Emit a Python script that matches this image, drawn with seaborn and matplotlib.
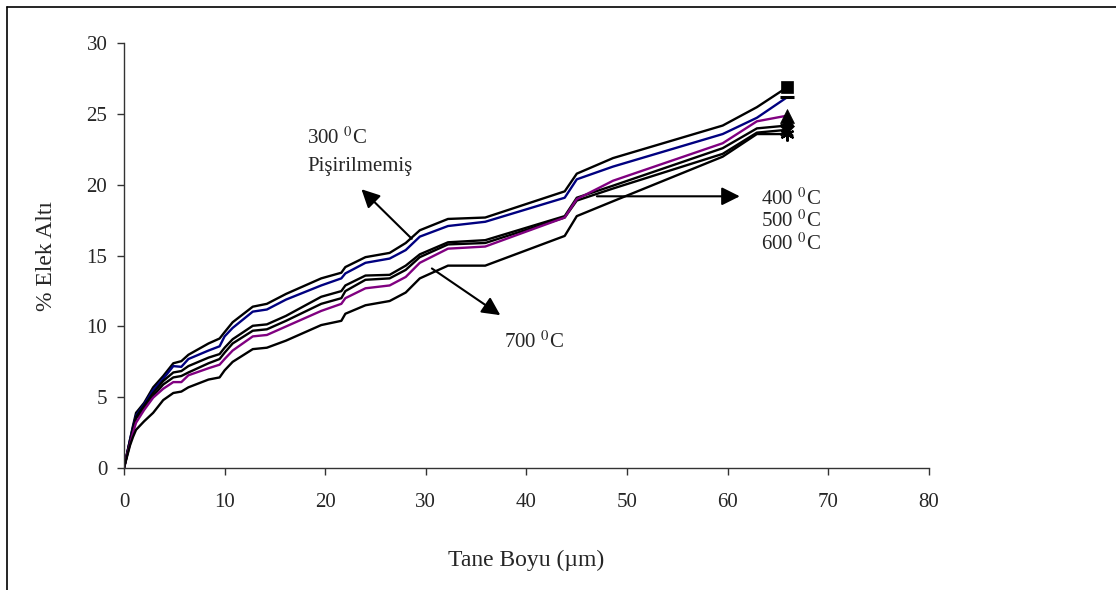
import matplotlib
matplotlib.use("Agg")
import matplotlib.pyplot as plt
from matplotlib.lines import Line2D
import numpy as np
import pandas as pd
import seaborn as sns

# Sieve sizes (µm) shared by every curve
tane_boyu = [0, 0.3, 0.6, 0.9, 1.2, 2.0, 2.9, 3.9, 4.9, 5.7, 6.4, 8.4, 9.5, 10.0,
             10.8, 12.8, 14.2, 16.1, 19.6, 21.6, 22.0, 24.0, 26.4, 28.0, 29.4,
             32.2, 35.9, 43.8, 45.0, 48.6, 59.5, 62.9, 65.9]

# Cumulative undersize (%) for each sample
pisirilmemis = [0, 1.0, 2.0, 3.0, 3.9, 4.6, 5.7, 6.5, 7.4, 7.55, 8.0, 8.8, 9.15, 9.6,
                10.3, 11.4, 11.6, 12.3, 13.4, 13.8, 14.2, 14.9, 15.2, 15.9, 16.8,
                17.6, 17.7, 19.55, 20.8, 21.9, 24.2, 25.5, 26.9]
c300 = [0, 1.0, 2.0, 2.9, 3.7, 4.5, 5.5, 6.3, 7.2, 7.15, 7.7, 8.3, 8.6, 9.3,
        9.9, 11.05, 11.2, 11.9, 12.9, 13.4, 13.75, 14.5, 14.8, 15.4, 16.35,
        17.1, 17.4, 19.1, 20.4, 21.3, 23.6, 24.75, 26.2]
c400 = [0, 1.0, 1.9, 2.8, 3.6, 4.4, 5.3, 6.15, 6.75, 6.85, 7.2, 7.8, 8.05, 8.5,
        9.1, 10.05, 10.15, 10.75, 12.1, 12.5, 12.9, 13.6, 13.65, 14.3, 15.1,
        15.95, 16.1, 17.8, 19.1, 19.95, 22.6, 24.0, 24.2]
c500 = [0, 0.9, 1.8, 2.7, 3.5, 4.2, 5.1, 5.9, 6.4, 6.5, 6.75, 7.4, 7.7, 8.15,
        8.8, 9.7, 9.8, 10.4, 11.6, 12.0, 12.5, 13.3, 13.4, 14.0, 14.9,
        15.8, 15.9, 17.7, 18.9, 19.75, 22.2, 23.7, 23.9]
c600 = [0, 0.9, 1.7, 2.5, 3.2, 4.1, 4.97, 5.6, 6.07, 6.07, 6.55, 7.05, 7.3, 7.7,
        8.3, 9.3, 9.4, 10.0, 11.1, 11.6, 12.0, 12.7, 12.9, 13.5, 14.5,
        15.5, 15.65, 17.7, 19.0, 20.3, 22.95, 24.5, 24.9]
c700 = [0, 0.8, 1.6, 2.2, 2.7, 3.3, 3.9, 4.8, 5.3, 5.4, 5.7, 6.25, 6.4, 6.9,
        7.5, 8.4, 8.5, 9.0, 10.1, 10.4, 10.9, 11.5, 11.8, 12.4, 13.4,
        14.3, 14.3, 16.4, 17.8, 18.85, 22.0, 23.6, 23.6]

x_ticks = [0, 10, 20, 30, 40, 50, 60, 70, 80]
y_ticks = [0, 5, 10, 15, 20, 25, 30]

# name, values, line colour, end marker, marker size, marker edge width
series = [
    ("Pişirilmemiş", pisirilmemis, "black", "s", 8.5, 0.5),
    ("300 °C", c300, "#000080", "_", 10, 2.2),
    ("400 °C", c400, "black", "D", 7.5, 0.5),
    ("500 °C", c500, "black", "x", 9, 1.6),
    ("600 °C", c600, "#800080", "^", 9.5, 0.5),
    ("700 °C", c700, "black", (6, 2, 0), 10, 1.6),
]

sns.set_style("white")
plt.rcParams["font.family"] = ["Liberation Serif", "DejaVu Serif"]
plt.rcParams["mathtext.fontset"] = "stix"

FS = 15
FS_TITLE = 17

fig = plt.figure(figsize=(11.16, 5.90), dpi=100)
ax = fig.add_axes([0.1111, 0.2068, 0.7213, 0.7195])

for name, vals, col, mk, ms, mew in series:
    df = pd.DataFrame({"x": tane_boyu, "y": vals})
    sns.lineplot(data=df, x="x", y="y", ax=ax, color=col, linewidth=1.7,
                 sort=False, estimator=None)
    ax.plot(tane_boyu[-1], vals[-1], linestyle="none", marker=mk,
            markersize=ms, color="black", markeredgecolor="black",
            markeredgewidth=mew, zorder=5)

ax.set_xlim(0, 80)
ax.set_ylim(0, 30)
ax.set_xticks(x_ticks)
ax.set_yticks(y_ticks)
ax.set_xticklabels([str(t) for t in x_ticks])
ax.set_yticklabels([str(t) for t in y_ticks])

for side in ("top", "right"):
    ax.spines[side].set_visible(False)
for side in ("left", "bottom"):
    ax.spines[side].set_color("#333333")
    ax.spines[side].set_linewidth(1.0)

ax.tick_params(axis="x", bottom=True, direction="out", length=5, width=1.0,
               color="#333333", pad=13, labelsize=FS)
ax.tick_params(axis="y", left=True, direction="out", length=5, width=1.0,
               color="#333333", pad=7, labelsize=FS)

ax.set_xlabel("Tane Boyu (µm)", fontsize=FS_TITLE, labelpad=27)
ax.set_ylabel("% Elek Altı", fontsize=FS_TITLE, labelpad=21)

arrow = dict(arrowstyle="-|>,head_length=1.1,head_width=0.55", color="black",
             lw=1.5, shrinkA=0, shrinkB=0)

# upper group
ax.annotate("", xy=(23.6, 19.7), xytext=(28.6, 16.2), arrowprops=arrow)
ax.text(18.2, 22.9, "300 $^{0}$C", fontsize=FS, ha="left", va="baseline")
ax.text(18.2, 21.0, "Pişirilmemiş", fontsize=FS, ha="left", va="baseline")

# middle group
ax.annotate("", xy=(61.2, 19.2), xytext=(47.0, 19.2), arrowprops=arrow)
ax.text(63.3, 19.0, "400 $^{0}$C", fontsize=FS, ha="left", va="center")
ax.text(63.3, 17.45, "500 $^{0}$C", fontsize=FS, ha="left", va="center")
ax.text(63.3, 15.85, "600 $^{0}$C", fontsize=FS, ha="left", va="center")

# lower group
ax.annotate("", xy=(37.4, 10.8), xytext=(30.6, 14.1), arrowprops=arrow)
ax.text(37.8, 8.9, "700 $^{0}$C", fontsize=FS, ha="left", va="center")

# outer frame
fig.add_artist(Line2D([7 / 1116, 1.0], [1 - 7 / 590, 1 - 7 / 590],
                      transform=fig.transFigure, color="black", lw=1.2))
fig.add_artist(Line2D([7 / 1116, 7 / 1116], [0.0, 1 - 7 / 590],
                      transform=fig.transFigure, color="black", lw=1.2))

fig.savefig("out.png", dpi=100)
